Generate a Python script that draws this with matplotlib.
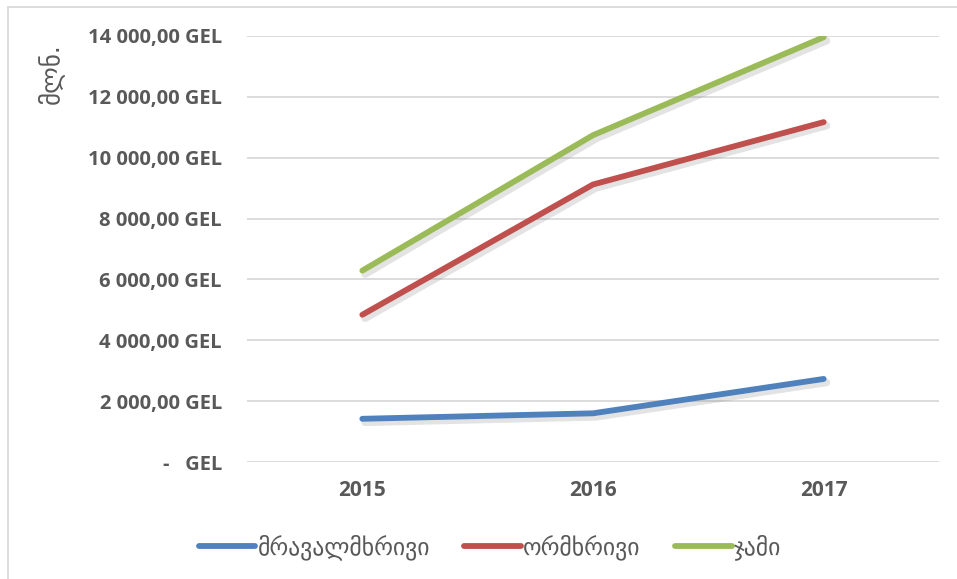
#!/usr/bin/env python3

import matplotlib
matplotlib.use("Agg")
import matplotlib.pyplot as plt
import matplotlib.patheffects as pe
from matplotlib.lines import Line2D
from matplotlib.ticker import FuncFormatter

years = ["2015", "2016", "2017"]
multi = [1420, 1600, 2730]      # მრავალმხრივი
bilateral = [4840, 9120, 11170]  # ორმხრივი
total = [6290, 10740, 13960]    # ჯამი
series_names = ["მრავალმხრივი", "ორმხრივი", "ჯამი"]
colors = ["#4F81BD", "#C0504D", "#9BBB59"]
y_ticks = [0, 2000, 4000, 6000, 8000, 10000, 12000, 14000]

gray = "#595959"


def gel(v, pos=None):
    if v == 0:
        return "-   GEL"
    s = f"{v:,.2f}".replace(",", " ").replace(".", ",")
    return s + " GEL"


fig = plt.figure(figsize=(9.57, 5.79), dpi=100)
fig.patch.set_facecolor("white")

# chart frame: only the left and top edges are inside the picture
fig.add_artist(Line2D([8 / 957, 8 / 957], [0, 1 - 7 / 579], transform=fig.transFigure,
                      color="#D9D9D9", linewidth=1.3))
fig.add_artist(Line2D([8 / 957, 1], [1 - 7 / 579, 1 - 7 / 579], transform=fig.transFigure,
                      color="#D9D9D9", linewidth=1.3))

ax = fig.add_axes([247 / 957, 1 - 462 / 579, 692 / 957, 426 / 579])

x = range(len(years))
shadow = [pe.SimpleLineShadow(offset=(2, -2.5), shadow_color="#808080", alpha=0.22, linewidth=5.5),
          pe.Normal()]
for vals, name, c in zip([multi, bilateral, total], series_names, colors):
    ax.plot(x, vals, color=c, linewidth=4.2, solid_capstyle="round", solid_joinstyle="round",
            label=name, path_effects=shadow, zorder=3)

ax.set_xlim(-0.5, len(years) - 0.5)
ax.set_ylim(0, 14000)
ax.set_yticks(y_ticks)
ax.yaxis.set_major_formatter(FuncFormatter(gel))
ax.set_xticks(list(x))
ax.set_xticklabels(years)
ax.grid(axis="y", color="#D9D9D9", linewidth=1.3)
ax.set_axisbelow(True)
for s in ax.spines.values():
    s.set_visible(False)
ax.tick_params(axis="y", length=0, pad=18, labelcolor=gray, labelsize=14.5)
ax.tick_params(axis="x", length=0, pad=13, labelcolor=gray, labelsize=15)
for lab in ax.get_yticklabels() + ax.get_xticklabels():
    lab.set_fontfamily("Open Sans")
    lab.set_fontweight("bold")

fig.text(50 / 957, 1 - 74 / 579, "მლნ.", rotation=90, ha="center", va="center",
         color=gray, fontsize=18, family=["DejaVu Sans"])

leg = fig.legend(loc="center", bbox_to_anchor=(0.512, 1 - 547 / 579), ncol=3, frameon=False,
                 handlelength=2.4, handletextpad=0.1, columnspacing=1.45,
                 prop={"family": "DejaVu Sans", "size": 17})
for t in leg.get_texts():
    t.set_color(gray)
for h in leg.legend_handles:
    h.set_path_effects([])
    h.set_linewidth(4.2)
    h.set_solid_capstyle("round")

fig.savefig("out.png", dpi=100, facecolor="white")
